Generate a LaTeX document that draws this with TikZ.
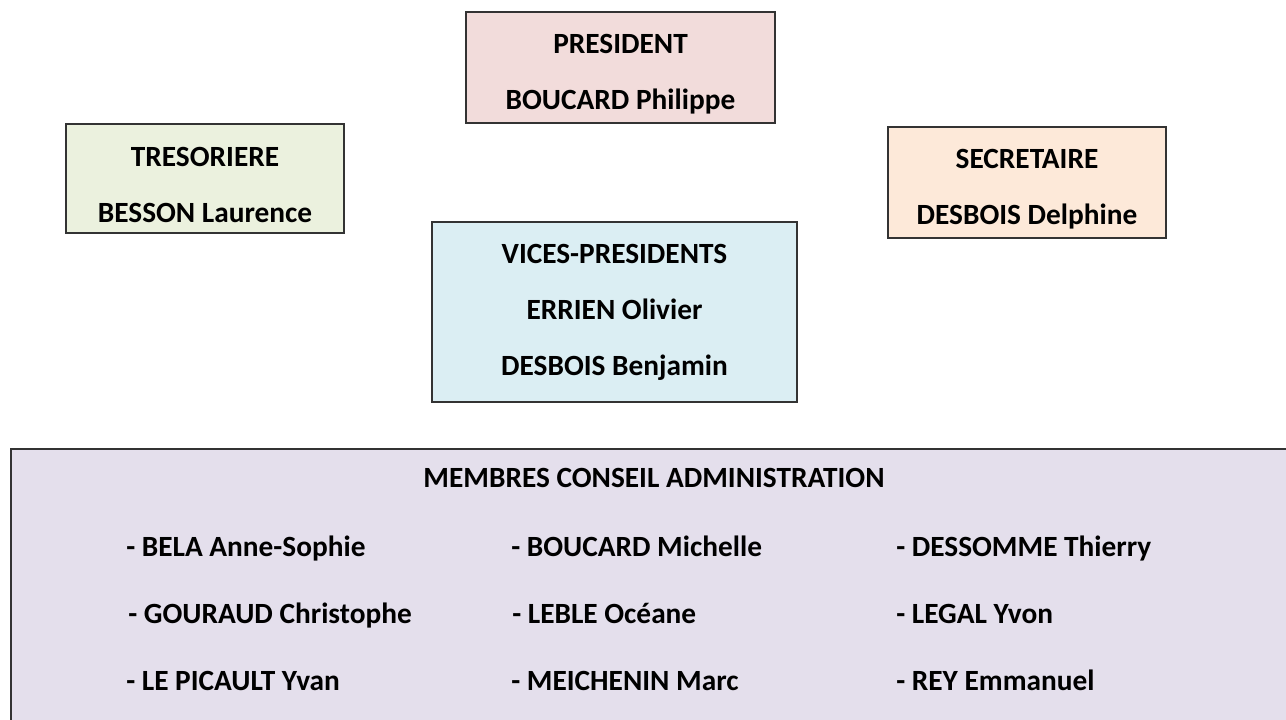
\documentclass[tikz,border=0pt]{standalone}
\usepackage{fontspec}
\setmainfont{Carlito}

\definecolor{presfill}{HTML}{F2DCDB}
\definecolor{tresofill}{HTML}{EBF1DE}
\definecolor{secrfill}{HTML}{FDE9D9}
\definecolor{vicesfill}{HTML}{DBEEF3}
\definecolor{conseilfill}{HTML}{E4DFEC}

\newcommand{\topstrut}{\rule{0pt}{24pt}}

\begin{document}
\begin{tikzpicture}
    [
        x=0.75pt, y=-0.75pt,
        every node/.style={font=\bfseries\fontsize{22}{42}\selectfont},
        post/.style={rectangle, draw=black!80, line width=1.2pt, align=center, inner sep=0pt},
        member/.style={anchor=base west, inner sep=0pt},
    ]

    \useasboundingbox (0,0) rectangle (1286,720);

    % bureau
    \node (pres)  at (620.5,67.5) [post, fill=presfill,  minimum width=231.75pt, minimum height=83.25pt] {\topstrut PRESIDENT\\BOUCARD Philippe};
    \node (treso) at (205,178.5)  [post, fill=tresofill, minimum width=208.5pt,  minimum height=81.75pt] {\topstrut TRESORIERE\\BESSON Laurence};
    \node (secr)  at (1027,182.5) [post, fill=secrfill,  minimum width=208.5pt,  minimum height=83.25pt] {\topstrut SECRETAIRE\\DESBOIS Delphine};
    \node (vices) at (614.5,312)  [post, fill=vicesfill, minimum width=273.75pt, minimum height=135pt] {VICES-PRESIDENTS\\ERRIEN Olivier\\DESBOIS Benjamin};

    % conseil d'administration
    \node (conseil) at (655.5,589.5) [post, fill=conseilfill, minimum width=966.75pt, minimum height=210.75pt] {};
    \node (titre) at (654,487) [anchor=base] {MEMBRES CONSEIL ADMINISTRATION};

    \node (m1) at (126,556) [member] {- BELA Anne-Sophie};
    \node (m2) at (511,556) [member] {- BOUCARD Michelle};
    \node (m3) at (896,556) [member] {- DESSOMME Thierry};
    \node (m4) at (128,623) [member] {- GOURAUD Christophe};
    \node (m5) at (512,623) [member] {- LEBLE Océane};
    \node (m6) at (896,623) [member] {- LEGAL Yvon};
    \node (m7) at (126,690) [member] {- LE PICAULT Yvan};
    \node (m8) at (511,690) [member] {- MEICHENIN Marc};
    \node (m9) at (896,690) [member] {- REY Emmanuel};

\end{tikzpicture}
\end{document}
